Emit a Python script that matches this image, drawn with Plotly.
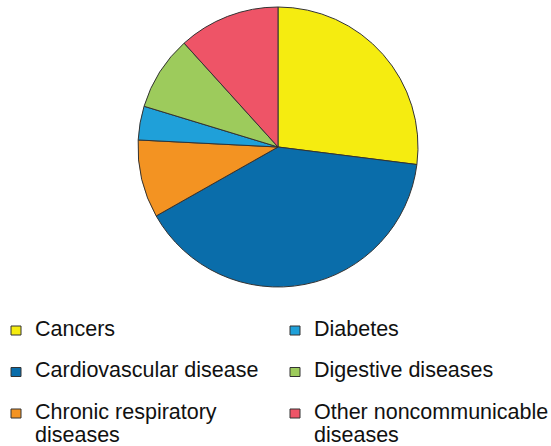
import plotly.graph_objects as go

labels = ["Cancers", "Cardiovascular disease", "Chronic respiratory diseases",
          "Diabetes", "Digestive diseases", "Other noncommunicable diseases"]
values = [27.0, 39.8, 9.0, 3.9, 8.6, 11.7]
colors = ["#F5EC10", "#0A6DAA", "#F39322", "#1FA0D9", "#9DCB5C", "#EE5467"]
legend_lines = [["Cancers"], ["Cardiovascular disease"], ["Chronic respiratory", "diseases"],
                ["Diabetes"], ["Digestive diseases"], ["Other noncommunicable", "diseases"]]

W, H = 551, 446


def px(X):
    return X / W


def py(Y):
    return min(1.0, max(0.0, 1 - Y / H))


cx, cy, r = 278, 147, 140

fig = go.Figure(go.Pie(
    labels=labels, values=values, sort=False, direction="clockwise", rotation=0,
    marker=dict(colors=colors, line=dict(color="#333333", width=1)),
    textinfo="none", hoverinfo="label+percent", showlegend=False,
    domain=dict(x=[px(cx - r), px(cx + r)], y=[py(cy + r), py(cy - r)]),
))

shapes = []
annotations = []
col_x = [11, 290]
row_y = [330.5, 372, 413.5]
for i, (lines, col) in enumerate(zip(legend_lines, colors)):
    c, rw = divmod(i, 3)
    x0 = col_x[c]
    y = row_y[rw]
    shapes.append(dict(type="rect", xref="paper", yref="paper",
                       x0=px(x0), x1=px(x0 + 10), y0=py(y + 4.5), y1=py(y - 4.5),
                       fillcolor=col, line=dict(color="#333333", width=1)))
    for j, ln in enumerate(lines):
        annotations.append(dict(text=ln, xref="paper", yref="paper", x=px(x0 + 22),
                                y=py(y - 2 + 23 * j), xanchor="left", yanchor="middle",
                                showarrow=False, align="left",
                                font=dict(family="Liberation Sans, Arial", size=21.5,
                                          color="#111111")))

fig.update_layout(width=W, height=H, margin=dict(l=0, r=0, t=0, b=0),
                  paper_bgcolor="white", plot_bgcolor="white",
                  shapes=shapes, annotations=annotations)
fig.write_html("out.html", config={"displayModeBar": False},
               post_script="document.body.style.margin='0';document.body.style.overflow='hidden';")
